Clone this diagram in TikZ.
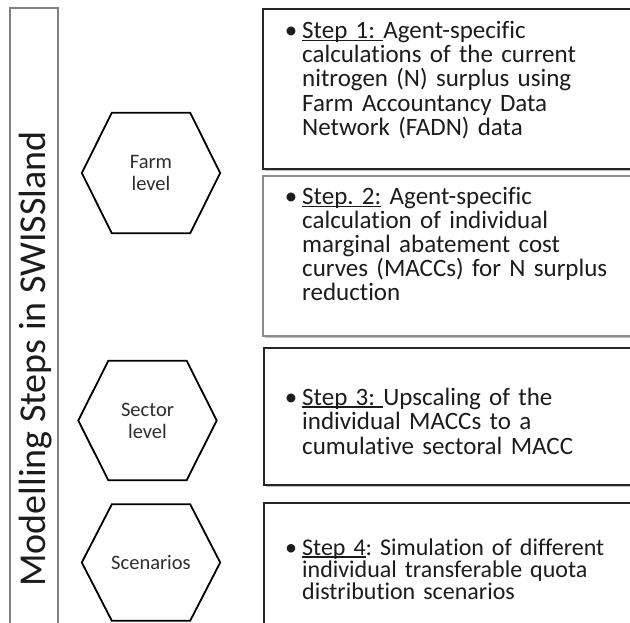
\documentclass[tikz,border=0pt]{standalone}
\usepackage{fontspec}
\setmainfont{Carlito}[Ligatures=NoCommon]
\usetikzlibrary{shadows}

\definecolor{ink}{HTML}{1C1C1C}
\definecolor{hexink}{HTML}{2E2E2E}
\definecolor{darkframe}{HTML}{262626}
\definecolor{softframe}{HTML}{8C8C8C}
\definecolor{stripframe}{HTML}{808080}

% underlined step label, rule sitting just under the baseline
\newcommand\steplabel[1]{{\setbox0\hbox{#1}\rlap{\rule[-2.6pt]{\wd0}{1.2pt}}\box0}}
% bullet hung to the left of the text column
\newcommand\stepbullet{\leavevmode\llap{\textbullet\hspace{5pt}}}
% hexagon drawn around a rectangular level node (corners cut 30pt in)
\newcommand\hexframe[1]{%
  \draw[hexline] (#1.west) -- ([xshift=30pt]#1.north west)
    -- ([xshift=-30pt]#1.north east) -- (#1.east)
    -- ([xshift=-30pt]#1.south east) -- ([xshift=30pt]#1.south west) -- cycle;}

\begin{document}
\frenchspacing
\begin{tikzpicture}[x=1pt,y=-1pt,
  level/.style={rectangle, minimum width=138pt, minimum height=120pt,
    inner sep=0pt, text=hexink, align=center,
    font=\fontsize{20.5}{22}\selectfont},
  hexline/.style={draw=black, line width=1.8pt, line join=miter},
  softshadow/.style={drop shadow={shadow xshift=1.6pt, shadow yshift=-1.6pt,
    fill=black, opacity=0.25}},
  stepbox/.style={draw=darkframe, fill=white, line width=2pt, anchor=north west,
    minimum width=440pt, inner sep=0pt, softshadow},
  steptext/.style={anchor=base west, align=left, text width=320pt,
    inner sep=0pt, text=ink}]

\clip (0,0) rectangle (630,622);
\fill[white] (0,0) rectangle (630,622);

% title strip on the left
\node[draw=stripframe, fill=white, line width=1.6pt, anchor=north west, softshadow,
      minimum width=48pt, minimum height=700pt, inner sep=0pt] (strip) at (9,7) {};
\node[rotate=90, anchor=base, text=ink, font=\fontsize{38}{40}\selectfont]
      (title) at (45.5,359) {Modelling Steps in SWISSland};

% levels
\node[level] (farm)   at (151,173) {Farm\\level};
\node[level, minimum height=119pt] (sector) at (147.5,420.5) {Sector\\level};
\node[level, minimum height=116pt] (scen)   at (151,562.5) {Scenarios};
\hexframe{farm}
\hexframe{sector}
\hexframe{scen}

% step boxes
\node[stepbox, minimum height=160pt] (b1) at (262,8) {};
\node[stepbox, draw=softframe, minimum height=160pt] (b2) at (262,175) {};
\node[stepbox, minimum height=137pt] (b3) at (263,347) {};
\node[stepbox, minimum height=200pt] (b4) at (263,502) {};

% step texts
\node[steptext, font=\fontsize{25}{24.2}\selectfont] (t1) at (302,38.5)
  {\stepbullet\steplabel{Step 1:\ }Agent-specific\\
   calculations of the current\\
   nitrogen (N) surplus using\\
   Farm Accountancy Data\\
   Network (FADN) data};
\node[steptext, font=\fontsize{25}{24}\selectfont] (t2) at (302,204.5)
  {\stepbullet\steplabel{Step.\ 2:} Agent-specific\\
   calculation of individual\\
   marginal abatement cost\\
   curves (MACCs) for N surplus\\
   reduction};
\node[steptext, font=\fontsize{25}{24.8}\selectfont] (t3) at (302,405)
  {\stepbullet\steplabel{Step 3:\ }Upscaling of the\\
   individual MACCs to a\\
   cumulative sectoral MACC};
\node[steptext, font=\fontsize{24}{22}\selectfont] (t4) at (302,555)
  {\stepbullet\steplabel{Step 4}: Simulation of different\\
   individual transferable quota\\
   distribution scenarios};
\end{tikzpicture}
\end{document}
